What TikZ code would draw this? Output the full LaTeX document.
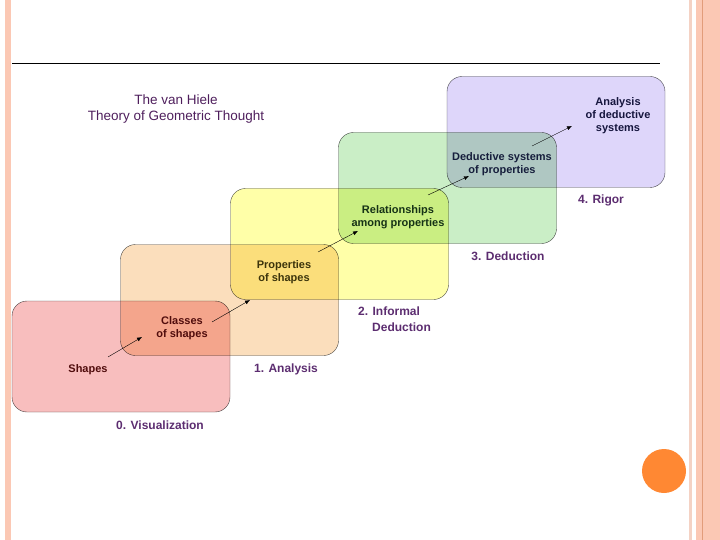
\documentclass[tikz,border=0pt]{standalone}
\usepackage{fontspec}
\setmainfont{Liberation Sans}
\usetikzlibrary{arrows.meta,calc}

\definecolor{lvlpink}{RGB}{248,190,190}
\definecolor{lvlorange}{RGB}{251,222,188}
\definecolor{lvlyellow}{RGB}{255,255,168}
\definecolor{lvlgreen}{RGB}{202,238,198}
\definecolor{lvlviolet}{RGB}{222,214,250}
\definecolor{framepeach}{RGB}{251,200,180}
\definecolor{framelight}{RGB}{244,210,196}
\definecolor{framedark}{RGB}{226,156,122}
\definecolor{dotorange}{RGB}{255,136,51}
\definecolor{stagepurple}{RGB}{92,45,112}
\definecolor{titlepurple}{RGB}{78,30,92}

\begin{document}
\begin{tikzpicture}[
  x=1pt, y=-1pt,
  level/.style={draw=black!70, rounded corners=15pt, minimum width=218pt,
    minimum height=111pt, inner sep=0pt},
  lbl/.style={font=\fontsize{11}{13}\selectfont\bfseries, align=center, inner sep=0pt},
  stage/.style={font=\fontsize{12}{16}\selectfont\bfseries, text=stagepurple,
    align=left, inner sep=0pt},
  hdr/.style={font=\fontsize{13.5}{16}\selectfont, text=titlepurple, align=center},
  arr/.style={-{Latex[length=5pt,width=4pt]}, thin}
]
\useasboundingbox (0,0) rectangle (720,540);

% ── slide frame ──────────────────────────────────────────────────────────
\fill[framepeach] (5,0) rectangle (11,540);
\fill[framelight] (689,0) rectangle (692,540);
\fill[framepeach] (696,0) rectangle (720,540);
\draw[framedark, line width=1pt] (702.5,0) -- (702.5,540);
\draw[line width=1pt] (12,64) -- (660,64);
\fill[dotorange] (664,471) circle (22);

\node[hdr] (title) at (176,109) {The van Hiele\\Theory of Geometric Thought};

% ── the five levels ──────────────────────────────────────────────────────
\begin{scope}[blend mode=multiply]
  \node[level, fill=lvlpink]   (lvl0) at (121,356.5) {};
  \node[level, fill=lvlorange] (lvl1) at (229.5,300) {};
  \node[level, fill=lvlyellow] (lvl2) at (339.5,244) {};
  \node[level, fill=lvlgreen]  (lvl3) at (447.5,188) {};
  \node[level, fill=lvlviolet] (lvl4) at (556,132) {};
\end{scope}

\node[lbl, text={rgb,255:red,80;green,12;blue,12}] (shapes) at (88,370) {Shapes};
\node[lbl, text={rgb,255:red,80;green,12;blue,12}] (classes) at (182,328) {Classes\\of shapes};
\node[lbl, text={rgb,255:red,60;green,52;blue,12}] (props) at (284,272.5) {Properties\\of shapes};
\node[lbl, text={rgb,255:red,22;green,50;blue,22}] (rel) at (398,217.5) {Relationships\\among properties};
\node[lbl, text={rgb,255:red,22;green,30;blue,60}] (deduct) at (502,164.5) {Deductive systems\\of properties};
\node[lbl, text={rgb,255:red,22;green,22;blue,62}] (anal) at (618,116) {Analysis\\of deductive\\systems};

\draw[arr] ($(shapes)+(20,-13)$) -- ($(classes)+(-40,9)$);
\draw[arr] ($(classes)+(30,-6)$) -- ($(props)+(-34,27.5)$);
\draw[arr] ($(props)+(34,-20.5)$) -- ($(rel)+(-40,13.5)$);
\draw[arr] ($(rel)+(30,-22.5)$) -- ($(deduct)+(-33,11.5)$);
\draw[arr] ($(deduct)+(30,-18.5)$) -- ($(anal)+(-46,10)$);

% ── stage names ──────────────────────────────────────────────────────────
\node[stage] (st0) at (160,425) {0. Visualization};
\node[stage] (st1) at (286,369) {1. Analysis};
\node[stage, anchor=west] (st2) at (358,319) {2. Informal\\\hspace*{14pt}Deduction};
\node[stage] (st3) at (508,256) {3. Deduction};
\node[stage] (st4) at (601,200) {4. Rigor};

\end{tikzpicture}
\end{document}
